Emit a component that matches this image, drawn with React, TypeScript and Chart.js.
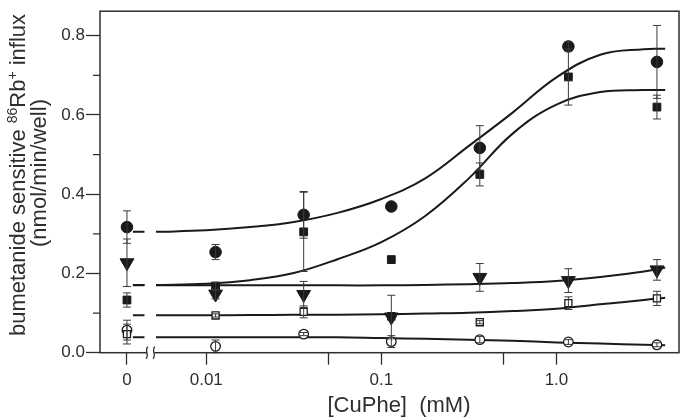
import React, { useEffect, useRef } from "react";
import { Chart, registerables } from "chart.js";

Chart.register(...registerables);

// ---- data ----
const X_CONC = [0, 0.0113, 0.036, 0.114, 0.365, 1.17, 3.75];

const FILLED_CIRCLE = [0.317, 0.254, 0.348, 0.369, 0.517, 0.773, 0.734];
const FILLED_CIRCLE_ERR = [0.041, 0.019, 0.059, 0, 0.056, 0.012, 0.092];

const FILLED_SQUARE = [0.133, 0.168, 0.305, 0.235, 0.45, 0.696, 0.62];
const FILLED_SQUARE_ERR = [0.018, 0.01, 0.1, 0, 0.029, 0.071, 0.03];

const TRIANGLE = [0.227, 0.148, 0.147, 0.09, 0.19, 0.182, 0.209];
const TRIANGLE_ERR = [0.06, 0.012, 0.033, 0.055, 0.035, 0.03, 0.026];

const OPEN_SQUARE = [0.047, 0.094, 0.103, 0.092, 0.077, 0.125, 0.137];
const OPEN_SQUARE_ERR = [0.025, 0.004, 0.015, 0, 0.004, 0.016, 0.018];

const OPEN_CIRCLE = [0.057, 0.016, 0.047, 0.028, 0.033, 0.027, 0.02];
const OPEN_CIRCLE_ERR = [0.025, 0.016, 0.004, 0.015, 0.008, 0.006, 0.005];

// fitted curves (x in mM)
const CURVE_X = [0.00516, 0.01, 0.0178, 0.0316, 0.0562, 0.1, 0.178, 0.316, 0.562, 1.0, 1.78, 3.16, 4.18];
const CURVE_FILLED_CIRCLE = [0.305, 0.309, 0.317, 0.33, 0.353, 0.388, 0.44, 0.522, 0.606, 0.695, 0.752, 0.766, 0.767];
const CURVE_FILLED_SQUARE = [0.171, 0.174, 0.183, 0.201, 0.236, 0.279, 0.345, 0.44, 0.553, 0.626, 0.658, 0.663, 0.663];
const CURVE_TRIANGLE = [0.17, 0.17, 0.17, 0.17, 0.17, 0.17, 0.171, 0.173, 0.176, 0.181, 0.191, 0.205, 0.215];
const CURVE_OPEN_SQUARE = [0.0945, 0.0945, 0.095, 0.0955, 0.096, 0.097, 0.099, 0.101, 0.105, 0.111, 0.122, 0.133, 0.139];
const CURVE_OPEN_CIRCLE = [0.039, 0.039, 0.039, 0.039, 0.039, 0.037, 0.035, 0.033, 0.03, 0.026, 0.023, 0.02, 0.019];

const X_TICK_CONC = [0, 0.01, 0.05, 0.1, 0.5, 1.0];
const X_TICK_LABELS = ["0", "0.01", "", "0.1", "", "1.0"];
const Y_TICKS = [0, 0.2, 0.4, 0.6, 0.8];
const Y_TICK_LABELS = ["0.0", "0.2", "0.4", "0.6", "0.8"];
const Y_MINOR_TICKS = [0.1, 0.3, 0.5, 0.7];

const X_TITLE = "[CuPhe]  (mM)";
const Y_TITLE_PARTS = [
  { t: "bumetanide sensitive ", sup: false },
  { t: "86", sup: true },
  { t: "Rb", sup: false },
  { t: "+", sup: true },
  { t: " influx", sup: false },
];
const Y_TITLE_2 = "(nmol/min/well)";

// ---- layout constants (log10 units on x) ----
const FONT = '"Liberation Sans", Arial, Helvetica, sans-serif';
const ZERO_POS = -2.453;
const X_MIN = -2.607;
const X_MAX = 0.7;
const Y_MIN = 0;
const Y_MAX = 0.862;
const BREAK_POS = -2.319;
const DASH_FROM = -2.419;
const DASH_TO = -2.353;
const INK = "#1a1a1a";
const AXIS = "#2e2e2e";

const toPos = (c: number) => (c === 0 ? ZERO_POS : Math.log10(c));

const SERIES = [
  { vals: FILLED_CIRCLE, err: FILLED_CIRCLE_ERR, curve: CURVE_FILLED_CIRCLE, style: "circle", radius: 5.8, fill: INK, rot: 0, bw: 1 },
  { vals: FILLED_SQUARE, err: FILLED_SQUARE_ERR, curve: CURVE_FILLED_SQUARE, style: "rect", radius: 5.5, fill: INK, rot: 0, bw: 1 },
  { vals: TRIANGLE, err: TRIANGLE_ERR, curve: CURVE_TRIANGLE, style: "triangle", radius: 8, fill: INK, rot: 180, bw: 1 },
  { vals: OPEN_SQUARE, err: OPEN_SQUARE_ERR, curve: CURVE_OPEN_SQUARE, style: "rect", radius: 5, fill: "#ffffff", rot: 0, bw: 1.3 },
  { vals: OPEN_CIRCLE, err: OPEN_CIRCLE_ERR, curve: CURVE_OPEN_CIRCLE, style: "circle", radius: 4.8, fill: "#ffffff", rot: 0, bw: 1.3 },
];

const decorPlugin = {
  id: "decor",
  afterDatasetsDraw(chart: any) {
    const ctx = chart.ctx;
    const xs = chart.scales.x;
    const ys = chart.scales.y;
    ctx.save();
    ctx.strokeStyle = "#3a3a3a";
    ctx.lineWidth = 1;
    chart.data.datasets.forEach((ds: any) => {
      if (!ds.errs) return;
      ds.data.forEach((p: any, i: number) => {
        const e = ds.errs[i];
        if (!e) return;
        const px = xs.getPixelForValue(p.x);
        const yt = ys.getPixelForValue(p.y + e);
        const yb = ys.getPixelForValue(p.y - e);
        ctx.beginPath();
        ctx.moveTo(px, yt);
        ctx.lineTo(px, yb);
        ctx.moveTo(px - 4, yt);
        ctx.lineTo(px + 4, yt);
        ctx.moveTo(px - 4, yb);
        ctx.lineTo(px + 4, yb);
        ctx.stroke();
      });
    });
    ctx.restore();
  },
  afterDraw(chart: any) {
    const ctx = chart.ctx;
    const a = chart.chartArea;
    const xs = chart.scales.x;
    const ys = chart.scales.y;
    ctx.save();
    // frame
    ctx.strokeStyle = AXIS;
    ctx.lineWidth = 1.5;
    ctx.strokeRect(a.left, a.top, a.right - a.left, a.bottom - a.top);
    // minor y ticks
    ctx.lineWidth = 1.3;
    ctx.beginPath();
    Y_MINOR_TICKS.forEach((v) => {
      const py = ys.getPixelForValue(v);
      ctx.moveTo(a.left - 7, py);
      ctx.lineTo(a.left, py);
    });
    ctx.stroke();
    // axis break
    const bx = xs.getPixelForValue(BREAK_POS);
    const by = a.bottom;
    ctx.fillStyle = "#ffffff";
    ctx.fillRect(bx - 3.5, by - 2, 7, 4);
    ctx.strokeStyle = AXIS;
    ctx.lineWidth = 1.3;
    [-3.5, 3.5].forEach((dx) => {
      const cx = bx + dx;
      ctx.beginPath();
      ctx.moveTo(cx + 1, by - 6);
      ctx.bezierCurveTo(cx - 3, by - 3, cx + 3, by + 3, cx - 1, by + 6);
      ctx.stroke();
    });
    // titles
    ctx.fillStyle = AXIS;
    ctx.textBaseline = "alphabetic";
    ctx.font = `22px ${FONT}`;
    ctx.textAlign = "center";
    ctx.fillText(X_TITLE, 399, 412);

    const mainFont = `22px ${FONT}`;
    const supFont = `14px ${FONT}`;
    ctx.save();
    ctx.translate(25, 175);
    ctx.rotate(-Math.PI / 2);
    ctx.textAlign = "left";
    let total = 0;
    Y_TITLE_PARTS.forEach((p) => {
      ctx.font = p.sup ? supFont : mainFont;
      total += ctx.measureText(p.t).width;
    });
    let cx = -total / 2;
    Y_TITLE_PARTS.forEach((p) => {
      ctx.font = p.sup ? supFont : mainFont;
      ctx.fillText(p.t, cx, p.sup ? -8 : 0);
      cx += ctx.measureText(p.t).width;
    });
    ctx.restore();

    ctx.save();
    ctx.translate(46, 173);
    ctx.rotate(-Math.PI / 2);
    ctx.textAlign = "center";
    ctx.font = mainFont;
    ctx.fillText(Y_TITLE_2, 0, 0);
    ctx.restore();

    ctx.restore();
  },
};

export default function App() {
  const ref = useRef<HTMLCanvasElement | null>(null);

  useEffect(() => {
    if (!ref.current) return;
    const datasets: any[] = [];
    SERIES.forEach((s) => {
      datasets.push({
        type: "line",
        data: CURVE_X.map((c, i) => ({ x: toPos(c), y: s.curve[i] })),
        borderColor: INK,
        borderWidth: 2,
        pointRadius: 0,
        tension: 0.4,
        fill: false,
        order: 3,
      });
      datasets.push({
        type: "line",
        data: [
          { x: DASH_FROM, y: s.curve[0] },
          { x: DASH_TO, y: s.curve[0] },
        ],
        borderColor: INK,
        borderWidth: 2,
        pointRadius: 0,
        fill: false,
        order: 3,
      });
      datasets.push({
        type: "line",
        showLine: false,
        data: X_CONC.map((c, i) => ({ x: toPos(c), y: s.vals[i] })),
        errs: s.err,
        pointStyle: s.style,
        pointRadius: s.radius,
        pointRotation: s.rot,
        pointBackgroundColor: s.fill,
        pointBorderColor: INK,
        pointBorderWidth: s.bw,
        order: 1,
      });
    });

    const chart = new Chart(ref.current, {
      type: "line",
      data: { datasets },
      options: {
        animation: false,
        responsive: false,
        devicePixelRatio: 1,
        layout: { padding: { top: 1, right: 1, left: 0, bottom: 0 } },
        plugins: { legend: { display: false }, tooltip: { enabled: false } },
        scales: {
          x: {
            type: "linear",
            min: X_MIN,
            max: X_MAX,
            afterBuildTicks: (s: any) => {
              s.ticks = X_TICK_CONC.map((c) => ({ value: toPos(c) }));
            },
            afterFit: (s: any) => {
              s.height = 67.3;
            },
            ticks: {
              autoSkip: false,
              maxRotation: 0,
              padding: 5,
              color: AXIS,
              font: { family: FONT, size: 17 },
              callback: (_v: any, i: number) => X_TICK_LABELS[i],
            },
            grid: { drawOnChartArea: false, drawTicks: true, tickLength: 12, tickColor: AXIS, tickWidth: 1.3 },
            border: { display: false },
          },
          y: {
            type: "linear",
            min: Y_MIN,
            max: Y_MAX,
            afterBuildTicks: (s: any) => {
              s.ticks = Y_TICKS.map((v) => ({ value: v }));
            },
            afterFit: (s: any) => {
              s.width = 100;
            },
            ticks: {
              padding: 1,
              color: AXIS,
              font: { family: FONT, size: 17 },
              callback: (_v: any, i: number) => Y_TICK_LABELS[i],
            },
            grid: { drawOnChartArea: false, drawTicks: true, tickLength: 14, tickColor: AXIS, tickWidth: 1.3 },
            border: { display: false },
          },
        },
      },
      plugins: [decorPlugin],
    } as any);
    return () => chart.destroy();
  }, []);

  return (
    <div style={{ position: "fixed", left: 0, top: 0, width: 688, height: 420, background: "#fff" }}>
      <canvas ref={ref} width={688} height={420} style={{ width: 688, height: 420, display: "block" }} />
    </div>
  );
}
